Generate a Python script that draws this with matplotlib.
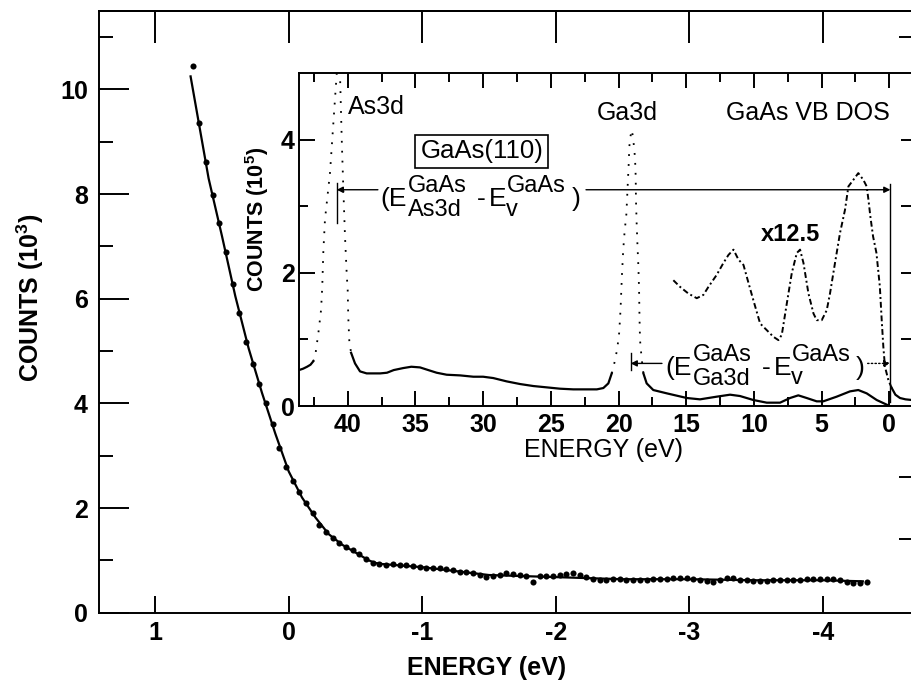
import matplotlib
matplotlib.use('Agg')
import matplotlib.pyplot as plt
from matplotlib.patches import Rectangle

plt.rcParams['font.family'] = ['Liberation Sans', 'DejaVu Sans']
plt.rcParams['font.weight'] = 'bold'
plt.rcParams['mathtext.fontset'] = 'custom'
plt.rcParams['mathtext.rm'] = 'Liberation Sans'
plt.rcParams['mathtext.bf'] = 'Liberation Sans:bold'

# ---------------- main panel data ----------------
main_energy = [0.72, 0.67, 0.62, 0.57, 0.52, 0.47, 0.42, 0.37, 0.32, 0.27, 0.22, 0.17, 0.12, 0.07,
               0.02, -0.03, -0.08, -0.13, -0.18, -0.23, -0.28, -0.33, -0.38, -0.43, -0.48, -0.53,
               -0.58, -0.63, -0.68, -0.73, -0.78, -0.83, -0.88, -0.93, -0.98, -1.03, -1.08, -1.13,
               -1.18, -1.23, -1.28, -1.33, -1.38, -1.43, -1.48, -1.53, -1.58, -1.63, -1.68, -1.73,
               -1.78, -1.83, -1.88, -1.93, -1.98, -2.03, -2.08, -2.13, -2.18, -2.23, -2.28, -2.33,
               -2.38, -2.43, -2.48, -2.53, -2.58, -2.63, -2.68, -2.73, -2.78, -2.83, -2.88, -2.93,
               -2.98, -3.03, -3.08, -3.13, -3.18, -3.23, -3.28, -3.33, -3.38, -3.43, -3.48, -3.53,
               -3.58, -3.63, -3.68, -3.73, -3.78, -3.83, -3.88, -3.93, -3.98, -4.03, -4.08, -4.13,
               -4.18, -4.23, -4.28, -4.33]
main_counts = [10.44, 9.35, 8.62, 7.98, 7.45, 6.90, 6.28, 5.72, 5.17, 4.76, 4.38, 4.00, 3.60, 3.15,
               2.78, 2.52, 2.30, 2.10, 1.90, 1.68, 1.55, 1.42, 1.33, 1.25, 1.19, 1.12,
               1.02, 0.95, 0.93, 0.91, 0.94, 0.92, 0.91, 0.90, 0.88, 0.85, 0.85, 0.86,
               0.84, 0.81, 0.78, 0.77, 0.75, 0.73, 0.69, 0.70, 0.72, 0.75, 0.74, 0.73,
               0.70, 0.59, 0.70, 0.70, 0.71, 0.72, 0.74, 0.76, 0.72, 0.69, 0.65, 0.63,
               0.63, 0.64, 0.64, 0.63, 0.63, 0.63, 0.63, 0.64, 0.64, 0.65, 0.66, 0.67,
               0.66, 0.65, 0.63, 0.61, 0.59, 0.63, 0.67, 0.66, 0.63, 0.62, 0.61, 0.61,
               0.61, 0.62, 0.63, 0.63, 0.63, 0.63, 0.64, 0.64, 0.64, 0.64, 0.64, 0.63,
               0.58, 0.57, 0.57, 0.59]
fit_energy = [0.735, 0.6, 0.5, 0.4, 0.3, 0.2, 0.1, 0.0, -0.1, -0.2, -0.3, -0.4, -0.5, -0.6,
              -0.65, -0.7, -1.0, -1.5, -2.0, -2.5, -3.0, -3.5, -4.0, -4.3]
fit_counts = [10.25, 8.3, 7.2, 6.05, 5.05, 4.2, 3.42, 2.7, 2.2, 1.82, 1.5, 1.3, 1.15, 1.0,
              0.95, 0.93, 0.87, 0.72, 0.68, 0.64, 0.64, 0.62, 0.62, 0.6]
main_xticks = [1, 0, -1, -2, -3, -4]
main_xticklabels = ['1', '0', '-1', '-2', '-3', '-4']
main_yticks = [0, 2, 4, 6, 8, 10]
main_yminor = [1, 3, 5, 7, 9, 11]
main_right_ticks = [11, 2.6, 1.4]

# ---------------- inset data ----------------
as_base_e = [43.6, 43.3, 43.0, 42.75, 42.55]
as_base_c = [0.54, 0.56, 0.59, 0.62, 0.67]
as_peak_e = [42.55, 42.41, 42.17, 41.97, 41.88, 41.8, 41.68, 41.31, 41.06, 40.81, 40.69, 40.57,
             40.44, 40.32, 40.2, 40.07, 40.0, 39.96, 39.88, 39.75]
as_peak_c = [0.67, 0.74, 1.09, 1.44, 1.79, 2.32, 2.8, 3.5, 4.25, 5.0, 5.6, 5.0,
             4.0, 3.25, 2.55, 1.97, 1.74, 1.34, 0.97, 0.8]
cont_e = [39.75, 39.46, 39.09, 38.6, 37.6, 37.1, 36.6, 35.9, 35.3, 34.66, 34.05, 33.43, 32.69,
          31.7, 30.72, 30.0, 29.25, 28.26, 27.27, 26.29, 25.3, 24.32, 23.34, 22.35, 21.6, 21.12,
          20.75, 20.5]
cont_c = [0.8, 0.64, 0.52, 0.49, 0.49, 0.5, 0.54, 0.57, 0.59, 0.58, 0.54, 0.5, 0.47,
          0.46, 0.44, 0.44, 0.42, 0.37, 0.33, 0.3, 0.28, 0.26, 0.25, 0.25, 0.25, 0.27,
          0.34, 0.49]
ga_peak_e = [20.5, 20.3, 20.1, 19.95, 19.85, 19.75, 19.65, 19.55, 19.42, 19.32, 19.25, 19.2,
             19.12, 19.02, 18.92, 18.85, 18.78, 18.73, 18.71, 18.66, 18.6, 18.53, 18.48, 18.45,
             18.41, 18.28, 18.16]
ga_peak_c = [0.49, 0.65, 0.85, 1.1, 1.45, 1.95, 2.35, 2.62, 2.88, 3.32, 3.62, 3.9,
             4.05, 4.15, 4.03, 3.88, 3.73, 3.45, 3.1, 2.75, 2.42, 2.09, 1.74, 1.34,
             0.99, 0.69, 0.49]
vb_e = [18.16, 17.92, 17.43, 16.43, 14.95, 13.98, 12.75, 11.76, 11.03, 10.04, 9.05, 8.07, 7.33,
        6.72, 6.1, 5.36, 4.88, 3.89, 2.9, 2.29, 1.67, 0.93, 0.19, 0.0]
vb_c = [0.49, 0.34, 0.24, 0.19, 0.12, 0.1, 0.14, 0.17, 0.15, 0.09, 0.05, 0.05, 0.12,
        0.16, 0.12, 0.07, 0.07, 0.14, 0.22, 0.24, 0.19, 0.09, 0.02, 0.0]
x125_e = [15.95, 15.45, 14.84, 14.22, 13.73, 13.36, 12.75, 12.25, 11.88, 11.51, 11.14, 10.77,
          10.4, 10.04, 9.54, 9.05, 8.56, 8.19, 7.94, 7.57, 7.2, 6.83, 6.59, 6.34, 5.97, 5.6,
          5.36, 4.99, 4.62, 4.38, 4.01, 3.64, 3.27, 3.02, 2.65, 2.29, 1.92, 1.67, 1.54, 1.4,
          1.2, 0.95, 0.7, 0.56, 0.44, 0.32, 0.07, -0.18]
x125_c = [1.89, 1.79, 1.69, 1.62, 1.67, 1.79, 1.97, 2.15, 2.27, 2.35, 2.2, 2.12,
          1.85, 1.59, 1.24, 1.14, 1.04, 0.99, 1.07, 1.54, 2.0, 2.3, 2.35, 2.15, 1.69, 1.39,
          1.29, 1.29, 1.44, 1.69, 2.15, 2.6, 2.95, 3.3, 3.4, 3.5, 3.4, 3.3, 3.1, 2.85,
          2.55, 2.3, 1.8, 1.29, 0.89, 0.59, 0.39, 0.27]
tail_e = [-0.18, -0.45, -0.79, -1.2, -1.67, -2.1]
tail_c = [0.27, 0.17, 0.12, 0.1, 0.09, 0.09]
inset_xticks = [40, 35, 30, 25, 20, 15, 10, 5, 0]
inset_xminor = [42.5, 37.5, 32.5, 27.5, 22.5, 17.5, 12.5, 7.5, 2.5]
inset_yticks = [0, 2, 4]
inset_yminor = [1, 3]
inset_right_ticks = [1, 2, 3, 4]

# ---------------- figure ----------------
W, H = 912, 688
PT = 0.72  # points per pixel at dpi 100
fig = plt.figure(figsize=(W / 100, H / 100), dpi=100)


def rect(l, t, r, b):
    return [l / W, 1 - b / H, (r - l) / W, (b - t) / H]


LW = 1.4
ax = fig.add_axes(rect(99, 11, 917, 612.7))
ax.set_xlim(1.421, -4.706)
ax.set_ylim(0, 11.5)
for s in ['left', 'bottom', 'top']:
    ax.spines[s].set_linewidth(LW)
ax.spines['right'].set_visible(False)

ax.plot(fit_energy, fit_counts, '-', color='black', lw=1.6, zorder=2)
ax.plot(main_energy, main_counts, 'o', color='black', ms=4.4, mew=0, zorder=3)

ax.set_xticks(main_xticks)
ax.set_xticklabels(main_xticklabels)
ax.set_yticks(main_yticks)
ax.set_yticks(main_yminor, minor=True)
ax.tick_params(axis='y', which='major', direction='in', length=30 * PT, width=LW,
               labelsize=18, pad=8)
ax.tick_params(axis='y', which='minor', direction='in', length=14 * PT, width=LW)
ax.tick_params(axis='x', which='major', direction='in', length=17 * PT, width=LW,
               labelsize=18, pad=6)
ax.tick_params(axis='x', which='minor', bottom=False)

top = ax.secondary_xaxis('top')
top.set_xticks(main_xticks)
top.tick_params(direction='in', length=32 * PT, width=LW, labeltop=False)
top.spines['top'].set_linewidth(LW)
right = ax.secondary_yaxis('right')
right.set_yticks(main_right_ticks)
right.tick_params(direction='in', length=18 * PT, width=LW, labelright=False)
right.spines['right'].set_visible(False)

fig.text(487 / W, 1 - 668 / H, 'ENERGY (eV)', ha='center', va='center', fontsize=18,
         fontweight='bold')
fig.text(30 / W, 1 - 298 / H, r'COUNTS (10$^{\mathbf{3}}$)', ha='center', va='center',
         rotation=90, fontsize=18, fontweight='bold')

# ---------------- inset ----------------
ai = fig.add_axes(rect(299, 73.3, 917, 406))
ai.set_facecolor('white')
ai.set_xlim(43.597, -2.046)
ai.set_ylim(0, 5)
for s in ['left', 'bottom', 'top']:
    ai.spines[s].set_linewidth(LW)
ai.spines['right'].set_visible(False)

dotted = (0, (1, 4.5))
ai.plot(as_base_e, as_base_c, '-', color='black', lw=1.6)
ai.plot(as_peak_e, as_peak_c, color='black', lw=1.3, linestyle=dotted)
ai.plot(cont_e, cont_c, '-', color='black', lw=1.6)
ai.plot(ga_peak_e, ga_peak_c, color='black', lw=1.3, linestyle=dotted)
ai.plot(vb_e, vb_c, '-', color='black', lw=1.6)
ai.plot(x125_e, x125_c, color='black', lw=1.4, linestyle=(0, (3, 1.5, 1, 1.5)))
ai.plot(tail_e, tail_c, '-', color='black', lw=1.6)

ai.set_xticks(inset_xticks)
ai.set_xticks(inset_xminor, minor=True)
ai.set_yticks(inset_yticks)
ai.set_yticks(inset_yminor, minor=True)
ai.tick_params(axis='x', which='major', direction='in', length=15 * PT, width=LW,
               top=True, labelsize=18, pad=5)
ai.tick_params(axis='x', which='minor', direction='in', length=9 * PT, width=LW, top=True)
ai.tick_params(axis='y', which='major', direction='in', length=16 * PT, width=LW,
               labelsize=18, pad=3)
ai.tick_params(axis='y', which='minor', direction='in', length=9 * PT, width=LW)
iright = ai.secondary_yaxis('right')
iright.set_yticks(inset_right_ticks)
iright.tick_params(direction='in', length=16 * PT, width=LW, labelright=False)
iright.spines['right'].set_visible(False)

fig.text(604 / W, 1 - 450 / H, 'ENERGY (eV)', ha='center', va='center', fontsize=18,
         fontweight='normal')
fig.text(257 / W, 1 - 219 / H, r'COUNTS (10$^{\mathbf{5}}$)', ha='center', va='center',
         rotation=90, fontsize=15.5, fontweight='bold')

# annotations
ai.text(39.98, 4.5, 'As3d', ha='left', va='center', fontsize=18, fontweight='normal')
ai.text(21.6, 4.4, 'Ga3d', ha='left', va='center', fontsize=18, fontweight='normal')
ai.text(-0.05, 4.4, 'GaAs VB DOS', ha='right', va='center', fontsize=18, fontweight='normal')
ai.text(7.32, 2.57, 'x12.5', ha='center', va='center', fontsize=17, fontweight='bold')
ai.add_patch(Rectangle((35.0, 3.58), 25.18 - 35.0, 4.075 - 3.58, fill=False,
                       edgecolor='black', lw=1.2))
ai.text(30.1, 3.83, 'GaAs(110)', ha='center', va='center', fontsize=18.5, fontweight='normal')


def composite(x, y, sub):
    pieces = [('(E', 0, 0, 19), ('GaAs', 27.5, 14, 17), (sub, 27.5, -10, 17),
              ('-', 97, 0, 19), ('E', 109, 0, 19), ('GaAs', 127, 14, 17),
              ('v', 126, -9.5, 17), (')', 191, 0, 19)]
    for txt, dx, dy, fs in pieces:
        ai.annotate(txt, xy=(x, y), xycoords='data', xytext=(dx * PT, dy * PT),
                    textcoords='offset points', ha='left', va='baseline', fontsize=fs,
                    fontweight='normal')


composite(37.59, 3.0, 'As3d')
composite(16.56, 0.466, 'Ga3d')

arrow = dict(arrowstyle='-|>', color='black', lw=1.0, mutation_scale=9, shrinkA=0, shrinkB=0)
ai.annotate('', xy=(40.81, 3.25), xytext=(37.77, 3.25), arrowprops=arrow)
ai.annotate('', xy=(-0.08, 3.25), xytext=(22.4, 3.25), arrowprops=arrow)
ai.annotate('', xy=(19.1, 0.64), xytext=(16.79, 0.64), arrowprops=arrow)
ai.annotate('', xy=(-0.08, 0.64), xytext=(1.6, 0.64),
            arrowprops=dict(arrow, linestyle=':'))
ai.plot([40.81, 40.81], [2.75, 3.35], color='black', lw=1.0)
ai.plot([19.1, 19.1], [0.54, 0.79], color='black', lw=1.0)
ai.plot([-0.08, -0.08], [0.06, 3.33], color='black', lw=1.0)

fig.savefig('out.png', dpi=100)
